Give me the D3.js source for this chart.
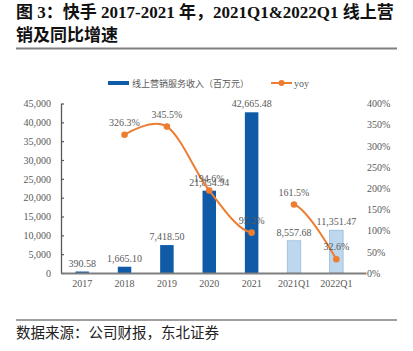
<!DOCTYPE html>
<html><head><meta charset="utf-8">
<script src="https://cdn.jsdelivr.net/npm/d3@7"></script>
<style>body{margin:0;background:#fff}svg{display:block}</style>
</head><body>
<svg id="c" width="413" height="351"></svg>
<script>
const categories = ["2017","2018","2019","2020","2021","2021Q1","2022Q1"];
const revenue = [390.58,1665.10,7418.50,21854.94,42665.48,8557.68,11351.47];
const quarterCats = ["2021Q1","2022Q1"];
const yoyCategories = ["2018","2019","2020","2021","2021Q1","2022Q1"];
const yoy = [326.3,345.5,194.6,95.2,161.5,32.6];
const leftTicks = [0,5000,10000,15000,20000,25000,30000,35000,40000,45000];
const rightTicks = [0,50,100,150,200,250,300,350,400];
const titleLines = ["图 3：快手 2017-2021 年，2021Q1&2022Q1 线上营","销及同比增速"];
const legendBar = "线上营销服务收入（百万元）";
const legendLine = "yoy";
const sourceText = "数据来源：公司财报，东北证券";

const svg = d3.select("#c");
const serif = "'Liberation Serif','Times New Roman',serif";
const cjk = "'Noto Sans CJK SC','Liberation Serif',sans-serif";
const gray = "#595959";
const darkBlue = "#0F5BA8", lightBlue = "#BDD7EE", orange = "#ED7D31";

// title
const tt = svg.append("text").attr("font-family", "'Liberation Serif','Noto Sans CJK SC',serif")
  .attr("font-weight", "bold").attr("font-size", 17).attr("fill", "#111");
tt.append("tspan").attr("x", 16).attr("y", 18).text(titleLines[0]);
tt.append("tspan").attr("x", 16).attr("y", 41).text(titleLines[1]);
svg.append("line").attr("x1", 16).attr("x2", 397).attr("y1", 48.5).attr("y2", 48.5)
  .attr("stroke", "#7f7f7f").attr("stroke-width", 2);

// scales
const x = d3.scaleBand().domain(categories).range([61, 366]).paddingInner(0).paddingOuter(0.1).align(0);
const cx = c => x(c) + x.bandwidth() / 2;
const yL = d3.scaleLinear().domain([0, 45000]).range([273, 103.5]);
const yR = d3.scaleLinear().domain([0, 400]).range([273, 103.5]);
const barW = 13.5;

// left axis
const gl = svg.append("g").attr("transform", "translate(61,0)")
  .call(d3.axisLeft(yL).tickValues(leftTicks).tickFormat(d3.format(",")).tickSize(-3).tickSizeOuter(0).tickPadding(10));
gl.select(".domain").attr("stroke", gray).attr("stroke-width", 1.3);
gl.selectAll(".tick line").attr("stroke", gray).attr("stroke-width", 1.2);
gl.selectAll("text").attr("font-family", serif).attr("font-size", 10).attr("fill", gray);

// right axis
const gr = svg.append("g").attr("transform", "translate(366,0)")
  .call(d3.axisRight(yR).tickValues(rightTicks).tickFormat(d => d + "%").tickSize(0).tickPadding(1));
gr.select(".domain").remove();
gr.selectAll("text").attr("font-family", serif).attr("font-size", 10).attr("fill", gray);

// bars
const barData = categories.map((c, i) => ({c, v: revenue[i]}));
svg.append("g").selectAll("rect").data(barData).join("rect")
  .attr("x", d => cx(d.c) - barW / 2).attr("width", barW)
  .attr("y", d => yL(d.v)).attr("height", d => yL(0) - yL(d.v))
  .attr("fill", d => quarterCats.includes(d.c) ? lightBlue : darkBlue)
  .attr("stroke", d => quarterCats.includes(d.c) ? "#9DB9D8" : "none").attr("stroke-width", 0.8);

// bottom axis
const gb = svg.append("g").attr("transform", "translate(0,273)")
  .call(d3.axisBottom(x).tickSize(0).tickSizeOuter(0).tickPadding(7));
gb.select(".domain").attr("stroke", "#7f7f7f").attr("stroke-width", 2);
gb.selectAll("text").attr("font-family", serif).attr("font-size", 10).attr("fill", gray);

// bar labels
const fmt = d3.format(",.2f");
svg.append("g").selectAll("text").data(barData).join("text")
  .attr("x", d => cx(d.c)).attr("y", d => yL(d.v) - 5)
  .attr("text-anchor", "middle").attr("font-family", serif).attr("font-size", 10).attr("fill", gray)
  .text(d => fmt(d.v));

// yoy line: cardinal curve through all points, gap between 2021 and 2021Q1
const pts = yoyCategories.map((c, i) => ({c, v: yoy[i], px: cx(c), py: yR(yoy[i])}));
const segs = [];
let cur = null;
const rec = {
  moveTo(a, b) { cur = [a, b]; },
  lineTo(a, b) { segs.push(`M${cur[0]},${cur[1]}L${a},${b}`); cur = [a, b]; },
  bezierCurveTo(a, b, c, d, e, f) { segs.push(`M${cur[0]},${cur[1]}C${a},${b},${c},${d},${e},${f}`); cur = [e, f]; },
  closePath() {}
};
d3.line().x(d => d.px).y(d => d.py).curve(d3.curveCardinal.tension(0)).context(rec)(pts);
const gapIndex = yoyCategories.indexOf("2021");
svg.append("g").selectAll("path").data(segs.filter((s, i) => i !== gapIndex)).join("path")
  .attr("d", d => d).attr("fill", "none").attr("stroke", orange).attr("stroke-width", 2);
svg.append("g").selectAll("circle").data(pts).join("circle")
  .attr("cx", d => d.px).attr("cy", d => d.py).attr("r", 3.3).attr("fill", orange);
svg.append("g").selectAll("text").data(pts).join("text")
  .attr("x", d => d.px).attr("y", d => d.py - 9)
  .attr("text-anchor", "middle").attr("font-family", serif).attr("font-size", 10).attr("fill", gray)
  .text(d => d.v.toFixed(1) + "%");

// legend
const lg = svg.append("g");
lg.append("rect").attr("x", 108).attr("y", 81).attr("width", 21).attr("height", 4).attr("fill", darkBlue);
lg.append("text").attr("x", 132).attr("y", 86.5).attr("font-family", cjk).attr("font-size", 9).attr("fill", gray).text(legendBar);
lg.append("line").attr("x1", 271).attr("x2", 292).attr("y1", 83).attr("y2", 83).attr("stroke", orange).attr("stroke-width", 2);
lg.append("circle").attr("cx", 281.5).attr("cy", 83).attr("r", 3).attr("fill", orange);
lg.append("text").attr("x", 294).attr("y", 86.5).attr("font-family", serif).attr("font-size", 10).attr("fill", gray).text(legendLine);

// source
svg.append("line").attr("x1", 16).attr("x2", 397).attr("y1", 320).attr("y2", 320)
  .attr("stroke", "#7f7f7f").attr("stroke-width", 1.5);
svg.append("text").attr("x", 16).attr("y", 338).attr("font-family", cjk).attr("font-size", 14.5).attr("fill", "#222").text(sourceText);
</script>
</body></html>
